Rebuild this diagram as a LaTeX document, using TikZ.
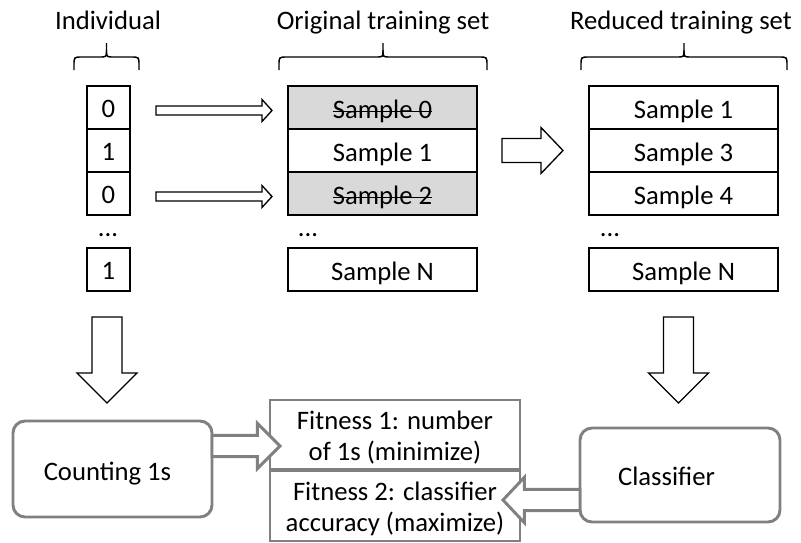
\documentclass[tikz,border=0pt]{standalone}
\usepackage{fontspec}
\setmainfont{Carlito}
\usetikzlibrary{calc}
\definecolor{bordergray}{HTML}{808080}
\definecolor{shade}{HTML}{D9D9D9}
\newsavebox\strkbox
\newcommand\strk[1]{\sbox\strkbox{#1}\rlap{\rule[4.8pt]{\wd\strkbox}{0.9pt}}\usebox\strkbox}
\newcommand\blockarrow[6][]{%
  \coordinate (babase) at ($(#3)!#6!(#2)$);
  \draw[#1] ($(#2)!#4!90:(#3)$) -- ($(babase)!#4!-90:(#2)$) -- ($(babase)!#5!-90:(#2)$) -- (#3)
     -- ($(babase)!#5!90:(#2)$) -- ($(babase)!#4!90:(#2)$) -- ($(#2)!#4!-90:(#3)$) -- cycle;}
\newcommand\mybrace[3]{%
  \draw[bracestyle] (#1,70) -- (#1,65) .. controls (#1,57) .. ($(#1,57)+(8,0)$) -- ($(#3,57)+(-7,0)$) .. controls (#3,57) .. (#3,50) -- (#3,43);
  \draw[bracestyle] (#2,70) -- (#2,65) .. controls (#2,57) .. ($(#2,57)+(-8,0)$) -- ($(#3,57)+(7,0)$) .. controls (#3,57) .. (#3,50);}
\begin{document}
\begin{tikzpicture}[x=0.75pt,y=-0.75pt,
  every node/.style={font=\fontsize{20}{23.25}\selectfont, outer sep=0pt},
  bitbox/.style={draw=black, line width=0.8pt, minimum width=32.25pt, minimum height=32.25pt, inner sep=0pt, text height=14.5pt, text depth=0pt},
  sampbox/.style={draw=black, line width=0.8pt, minimum width=141.75pt, minimum height=32.25pt, inner sep=0pt, text height=17pt, text depth=0pt},
  struck/.style={sampbox, fill=shade},
  title/.style={anchor=base},
  bracestyle/.style={black, line width=1.1pt},
  thinarrow/.style={draw=black, fill=white, line width=1pt, line join=miter},
  grayarrow/.style={draw=bordergray, fill=white, line width=2.2pt, line join=miter},
  roundbox/.style={draw=bordergray, line width=2.2pt, rounded corners=9pt, inner sep=0pt},
  fitbox/.style={draw=bordergray, line width=2.2pt, minimum width=187.5pt, inner sep=0pt},
  fittext/.style={align=center, inner sep=0pt}
]
\useasboundingbox (0,0) rectangle (801,543);

% titles
\node[title] (tInd) at (108,29.5) {Individual};
\node[title] (tOrig) at (383,29.5) {Original training set};
\node[title] (tRed) at (681,29.5) {Reduced training set};

% braces
\mybrace{74}{139}{106.5}
\mybrace{279}{487}{383}
\mybrace{581}{787}{684}

% individual
\node[bitbox] (i0) at (108.5,107.5) {0};
\node[bitbox] (i1) at (108.5,150.5) {1};
\node[bitbox] (i2) at (108.5,193.5) {0};
\node[title] (iD) at (108,236) {...};
\node[bitbox] (iN) at (108.5,269.5) {1};

% original
\node[struck] (o0) at (382.5,107.5) {\strk{Sample 0}};
\node[sampbox] (o1) at (382.5,150.5) {Sample 1};
\node[struck] (o2) at (382.5,193.5) {\strk{Sample 2}};
\node[title] (oD) at (308,236) {...};
\node[sampbox] (oN) at (382.5,269.5) {Sample N};

% reduced
\node[sampbox] (r0) at (683.5,107.5) {Sample 1};
\node[sampbox] (r1) at (683.5,150.5) {Sample 3};
\node[sampbox] (r2) at (683.5,193.5) {Sample 4};
\node[title] (rD) at (610,236) {...};
\node[sampbox] (rN) at (683.5,269.5) {Sample N};

% bottom boxes
\node[fitbox, minimum height=51.75pt] (fit1) at (395,434.5) {};
\node[fittext] (fit1T) at ($(fit1.center)+(0,3.5)$) {Fitness 1: number\\of 1s (minimize)};
\node[fitbox, minimum height=52.5pt] (fit2) at (395,506) {};
\node[fittext] (fit2T) at ($(fit2.center)+(0,3)$) {Fitness 2: classifier\\accuracy (maximize)};
\node[roundbox, minimum width=149.25pt, minimum height=72pt] (cnt) at (112.5,469) {};
\node[title] (cntT) at ($(cnt.center)+(-5,11)$) {Counting 1s};
\node[roundbox, minimum width=150pt, minimum height=70.5pt] (cls) at (680,475) {};
\node[title] (clsT) at ($(cls.center)+(-13.5,10)$) {Classifier};

% connectors
\coordinate (a1s) at ($(i0.east)+(26,3)$);
\coordinate (a1e) at ($(o0.west)+(-16,3)$);
\coordinate (a2s) at ($(i2.east)+(26,3)$);
\coordinate (a2e) at ($(o2.west)+(-16,3)$);
\coordinate (a3s) at ($(o1.east)+(25,0)$);
\coordinate (a3e) at ($(r1.west)+(-26,0)$);
\coordinate (a4s) at ($(iN.south)+(-1.5,26)$);
\coordinate (a4e) at ($(a4s |- cnt.north)+(0,-18)$);
\coordinate (a5s) at ($(rN.south)+(-5,26)$);
\coordinate (a5e) at ($(a5s |- cls.north)+(0,-25)$);
\coordinate (a6s) at ($(cnt.north east)+(0,25)$);
\coordinate (a6e) at ($(fit1.west)+(10,11.5)$);
\coordinate (a7s) at ($(cls.west)+(0,25)$);
\coordinate (a7e) at ($(fit2.east)+(-17,-6)$);

\blockarrow[thinarrow]{a1s}{a1e}{3.4pt}{8.25pt}{7.5pt}
\blockarrow[thinarrow]{a2s}{a2e}{3.4pt}{8.25pt}{7.5pt}
\blockarrow[thinarrow]{a3s}{a3e}{9pt}{17.25pt}{16.5pt}
\blockarrow[thinarrow]{a4s}{a4e}{11.25pt}{22.5pt}{22.5pt}
\blockarrow[thinarrow]{a5s}{a5e}{11.25pt}{22.5pt}{22.5pt}
\blockarrow[grayarrow]{a6s}{a6e}{8pt}{17pt}{17pt}
\blockarrow[grayarrow]{a7s}{a7e}{8pt}{17pt}{16pt}
\end{tikzpicture}
\end{document}
